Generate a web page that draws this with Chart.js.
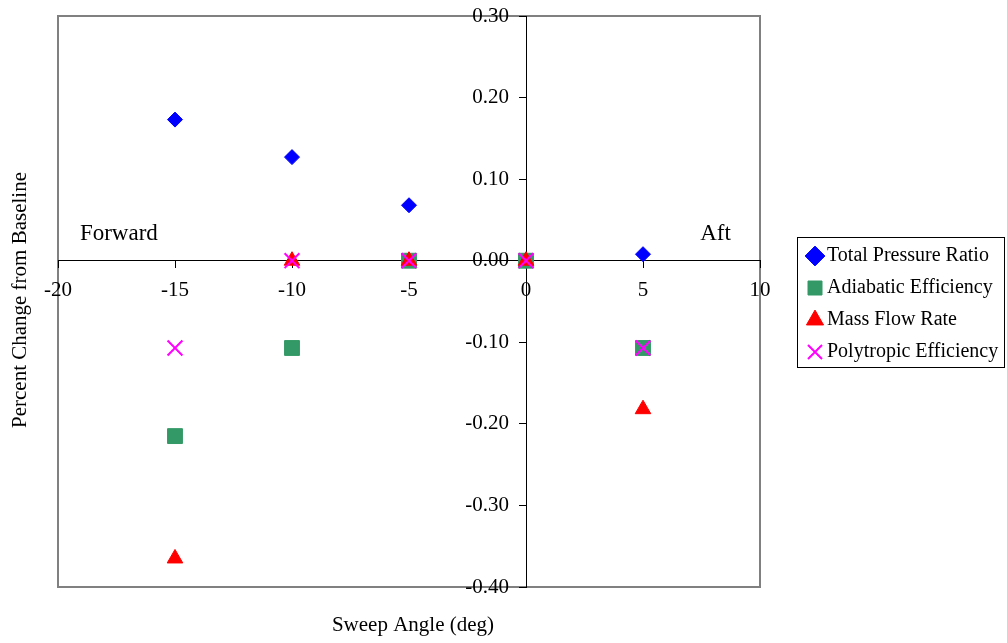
<!DOCTYPE html>
<html>
<head>
<meta charset="utf-8">
<script src="https://cdn.jsdelivr.net/npm/chart.js@4.4.0/dist/chart.umd.min.js"></script>
<style>
html,body{margin:0;padding:0;background:#fff;}
#wrap{width:1007px;height:643px;position:relative;}
</style>
</head>
<body>
<div id="wrap"><canvas id="c" width="1007" height="643"></canvas></div>
<script>
// ---- data ----
const sweepAngles = [-15, -10, -5, 0, 5];
const totalPressureRatio = [0.173, 0.127, 0.068, 0.0, 0.008];
const adiabaticEfficiency = [-0.215, -0.107, 0.0, 0.0, -0.107];
const massFlowRate = [-0.365, 0.0, 0.0, 0.0, -0.182];
const polytropicEfficiency = [-0.107, 0.0, 0.0, 0.0, -0.107];
const seriesNames = ['Total Pressure Ratio', 'Adiabatic Efficiency', 'Mass Flow Rate', 'Polytropic Efficiency'];
const xTickValues = [-20, -15, -10, -5, 0, 5, 10];
const yTickValues = [0.30, 0.20, 0.10, 0.00, -0.10, -0.20, -0.30, -0.40];
const xTitle = 'Sweep Angle (deg)';
const yTitle = 'Percent Change from Baseline';
const noteLeft = 'Forward';
const noteRight = 'Aft';

const FONT = 'Liberation Serif';

function pts(vals) { return sweepAngles.map((x, i) => ({x: x, y: vals[i]})); }

const styles = [
  {pointStyle: 'rectRot', color: '#0000FF', r: 7.5, bw: 1},
  {pointStyle: 'rect', color: '#339966', r: 10.5, bw: 1},
  {pointStyle: 'triangle', color: '#FF0000', r: 9, bw: 1},
  {pointStyle: 'crossRot', color: '#FF00FF', r: 10.5, bw: 2}
];
const seriesValues = [totalPressureRatio, adiabaticEfficiency, massFlowRate, polytropicEfficiency];

const datasets = seriesValues.map((vals, i) => ({
  label: seriesNames[i],
  data: pts(vals),
  showLine: false,
  pointStyle: styles[i].pointStyle,
  pointRadius: styles[i].r,
  pointHoverRadius: styles[i].r,
  backgroundColor: styles[i].color,
  borderColor: styles[i].color,
  pointBorderWidth: styles[i].bw,
  borderWidth: styles[i].bw,
  order: seriesValues.length - 1 - i
}));

const noPad = s => { s.paddingTop = 0; s.paddingBottom = 0; s.paddingLeft = 0; s.paddingRight = 0; };

const decor = {
  id: 'decor',
  beforeDraw(chart) {
    const {ctx, chartArea: a} = chart;
    ctx.save();
    ctx.strokeStyle = '#808080';
    ctx.lineWidth = 2;
    ctx.strokeRect(a.left, a.top, a.right - a.left, a.bottom - a.top);
    ctx.restore();
  },
  afterLayout(chart) {
    const lg = chart.legend;
    if (!lg) return;
    const w = lg.width, h = lg.height;
    lg.left = 801; lg.right = 801 + w;
    lg.top = 234; lg.bottom = 234 + h;
  },
  afterDraw(chart) {
    const {ctx} = chart;
    const xs = chart.scales.x, ys = chart.scales.y;
    ctx.save();
    ctx.fillStyle = '#000';
    ctx.font = '21px "' + FONT + '"';
    ctx.textAlign = 'center';
    ctx.textBaseline = 'middle';
    ctx.fillText(xTitle, 413, 625);
    ctx.save();
    ctx.translate(20, 300);
    ctx.rotate(-Math.PI / 2);
    ctx.fillText(yTitle, 0, 0);
    ctx.restore();
    ctx.font = '23px "' + FONT + '"';
    ctx.textBaseline = 'alphabetic';
    ctx.fillText(noteLeft, xs.getPixelForValue(-17.4), ys.getPixelForValue(0.025));
    ctx.fillText(noteRight, xs.getPixelForValue(8.1), ys.getPixelForValue(0.025));
    // legend frame
    const lg = chart.legend;
    ctx.strokeStyle = '#000';
    ctx.lineWidth = 1;
    ctx.strokeRect(Math.round(lg.left - 4) + 0.5, Math.round(lg.top + 3) + 0.5, 207, 130);
    ctx.restore();
  }
};

const tickFont = {family: FONT, size: 21};

new Chart(document.getElementById('c'), {
  type: 'scatter',
  data: {datasets: datasets},
  options: {
    responsive: false,
    animation: false,
    devicePixelRatio: 1,
    layout: {padding: {left: 58, top: 16, right: 247, bottom: 56}},
    plugins: {
      tooltip: {enabled: false},
      title: {display: false},
      legend: {
        display: true,
        position: 'chartArea',
        align: 'start',
        labels: {
          usePointStyle: true,
          boxWidth: 4,
          boxHeight: 14,
          padding: 12,
          color: '#000',
          font: {family: FONT, size: 20},
          sort: (a, b) => a.datasetIndex - b.datasetIndex
        }
      }
    },
    scales: {
      x: {
        type: 'linear',
        min: -20, max: 10,
        position: {y: 0},
        afterBuildTicks: s => { s.ticks = xTickValues.map(v => ({value: v})); },
        afterFit: s => { s.height = 0; noPad(s); },
        grid: {display: true, drawOnChartArea: false, drawTicks: true, tickLength: 7, tickColor: '#000', tickWidth: 1},
        border: {display: true, color: '#000', width: 1},
        ticks: {color: '#000', font: tickFont, padding: 10, maxRotation: 0, autoSkip: false,
                callback: v => String(v)}
      },
      // axis line and tick marks through x = 0
      y: {
        type: 'linear',
        min: -0.4, max: 0.3,
        position: {x: 0},
        afterBuildTicks: s => { s.ticks = yTickValues.map(v => ({value: v})); },
        afterFit: s => { s.width = 0; noPad(s); },
        grid: {display: true, drawOnChartArea: false, drawTicks: true, tickLength: 7, tickColor: '#000', tickWidth: 1},
        border: {display: true, color: '#000', width: 1},
        ticks: {display: false}
      },
      // tick labels, set a little to the left of the axis line
      yLabels: {
        type: 'linear',
        axis: 'y',
        min: -0.4, max: 0.3,
        position: {x: -0.73},
        afterBuildTicks: s => { s.ticks = yTickValues.map(v => ({value: v})); },
        afterFit: s => { s.width = 0; noPad(s); },
        grid: {display: false},
        border: {display: false},
        ticks: {color: '#000', font: tickFont, autoSkip: false,
                callback: v => Number(v).toFixed(2)}
      }
    }
  },
  plugins: [decor]
});
</script>
</body>
</html>
